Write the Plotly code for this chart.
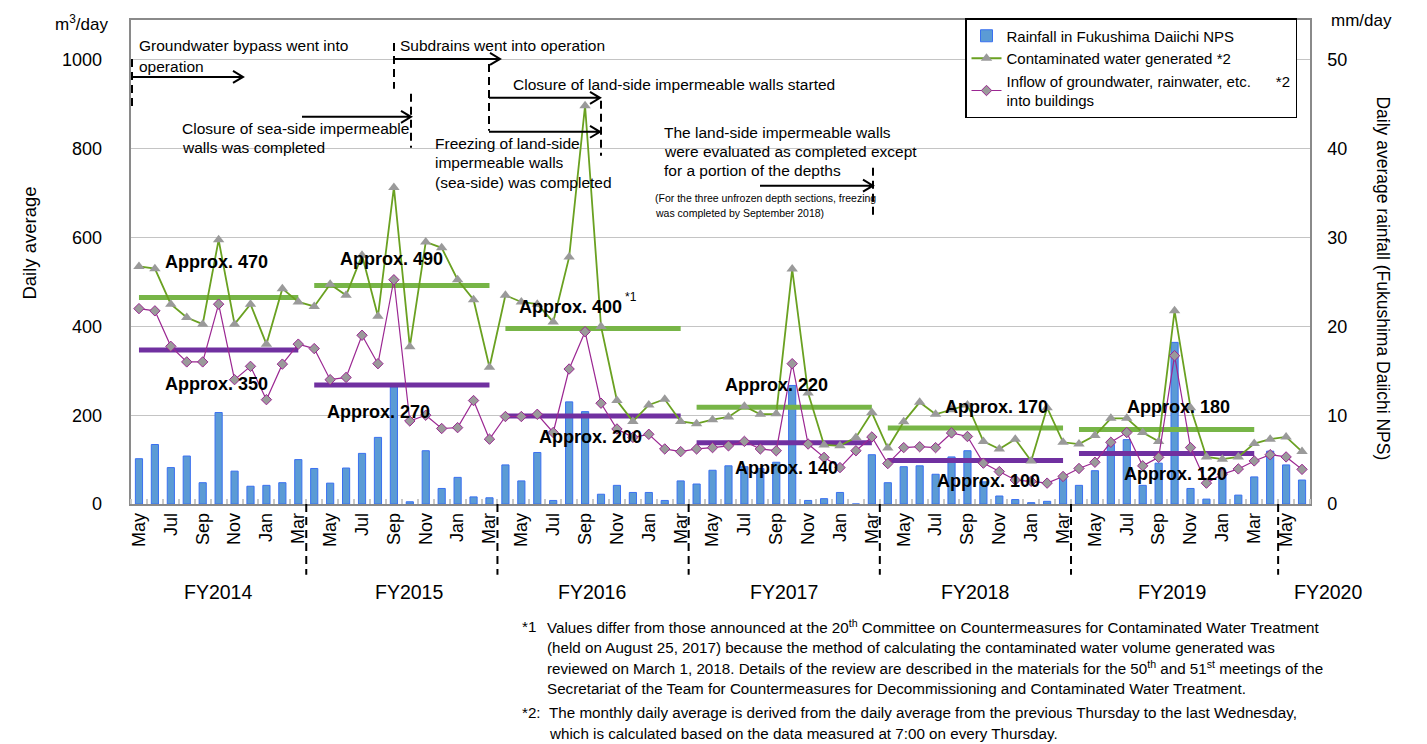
import plotly.graph_objects as go

# ---------------- data ----------------
MONTHS = ["Apr", "May", "Jun", "Jul", "Aug", "Sep", "Oct", "Nov", "Dec", "Jan", "Feb", "Mar"]
N_MONTHS = 74  # May 2014 .. Jun 2020
month_names = [MONTHS[(i + 1) % 12] for i in range(N_MONTHS)]

contaminated = [535, 530, 450, 420, 405, 595, 405, 450, 360, 485, 455,
                445, 495, 470, 560, 423, 713, 354, 590, 577, 505, 460, 308,
                470, 455, 450, 410, 556, 897, 400, 233, 186, 223, 236, 186,
                181, 190, 196, 220, 202, 203, 529, 250, 133, 131, 150, 206,
                126, 185, 229, 202, 212, 223, 141, 124, 146, 97, 217, 139,
                135, 154, 193, 193, 161, 141, 435, 217, 106, 101, 106, 136,
                146, 151, 118]

inflow = [440, 435, 355, 320, 320, 450, 280, 310, 235, 315, 360,
          350, 280, 285, 380, 316, 505, 187, 200, 170, 172, 233, 146,
          197, 197, 202, 161, 304, 388, 227, 169, 150, 157, 124, 118,
          124, 127, 131, 141, 124, 120, 316, 135, 105, 82, 120, 151,
          91, 127, 129, 127, 160, 152, 92, 73, 54, 51, 47, 62,
          80, 94, 139, 161, 86, 105, 334, 127, 47, 67, 79, 97,
          111, 106, 78]

rainfall = [5.1, 6.7, 4.1, 5.4, 2.4, 10.3, 3.7, 2.0, 2.1, 2.4, 5.0,
            4.0, 2.35, 4.05, 5.7, 7.5, 13.2, 0.25, 6.0, 1.75, 3.0, 0.8, 0.7,
            4.4, 2.6, 5.8, 0.4, 11.5, 10.4, 1.1, 2.1, 1.3, 1.3, 0.4, 2.6,
            2.25, 3.8, 4.3, 4.2, 4.0, 4.7, 13.35, 0.4, 0.6, 1.3, 0.0, 5.55,
            2.4, 4.2, 4.3, 3.35, 5.3, 6.0, 2.5, 0.9, 0.5, 0.15, 0.3, 3.0,
            2.1, 3.75, 6.7, 7.25, 2.1, 4.6, 18.2, 1.75, 0.55, 3.6, 1.0, 3.05,
            5.95, 4.4, 2.7]

fiscal_years = ["FY2014", "FY2015", "FY2016", "FY2017", "FY2018", "FY2019", "FY2020"]
fy_first = [0, 11, 23, 35, 47, 59]
fy_last = [10, 22, 34, 46, 58, 70]
avg_contaminated = [465, 492, 395, 218, 171, 168]
avg_inflow = [347, 268, 198, 138, 98, 114]
avg_contaminated_labels = ["Approx. 470", "Approx. 490", "Approx. 400", "Approx. 220", "Approx. 170", "Approx. 180"]
avg_inflow_labels = ["Approx. 350", "Approx. 270", "Approx. 200", "Approx. 140", "Approx. 100", "Approx. 120"]

left_ticks = [0, 200, 400, 600, 800, 1000]
right_ticks = [0, 10, 20, 30, 40, 50]

# ---------------- layout helpers (page pixel -> paper) ----------------
# the page body has an 8px margin, so the figure is drawn at (8, 8)
OFF = 8
L, R, T, B = 131, 1310, 19, 504          # plot area in page pixels
W, H = 1427 - OFF, 744 - OFF             # figure size
def PX(x):
    return (x - L) / (R - L)
def PY(y):
    return (B - y) / (B - T)

FONT = "Liberation Sans, Arial, sans-serif"
GREEN = "#6aa121"
GREEN_AVG = "#77b547"
PURPLE = "#9b2792"
PURPLE_AVG = "#7030a0"

x_idx = list(range(N_MONTHS))

fig = go.Figure()
fig.add_trace(go.Bar(
    x=x_idx, y=rainfall, name="Rainfall in Fukushima Daiichi NPS", yaxis="y",
    width=0.45, marker=dict(color="#5b9bd5", line=dict(color="#3a70f0", width=1)),
))

# FY average lines
gx, gy, px_, py_ = [], [], [], []
for a, b, vc, vi in zip(fy_first, fy_last, avg_contaminated, avg_inflow):
    gx += [a, b, None]; gy += [vc, vc, None]
    px_ += [a, b, None]; py_ += [vi, vi, None]
fig.add_trace(go.Scatter(x=gx, y=gy, yaxis="y2", mode="lines", showlegend=False,
                         line=dict(color=GREEN_AVG, width=5), hoverinfo="skip"))
fig.add_trace(go.Scatter(x=px_, y=py_, yaxis="y2", mode="lines", showlegend=False,
                         line=dict(color=PURPLE_AVG, width=5), hoverinfo="skip"))

fig.add_trace(go.Scatter(
    x=x_idx, y=contaminated, yaxis="y2", mode="lines+markers",
    name="Contaminated water generated *2",
    line=dict(color=GREEN, width=1.8),
    marker=dict(symbol="triangle-up", size=10, color="#9a9a9a", line=dict(width=0)),
))
fig.add_trace(go.Scatter(
    x=x_idx, y=inflow, yaxis="y2", mode="lines+markers",
    name="Inflow of groundwater, rainwater, etc.\u00a0\u00a0\u00a0\u00a0\u00a0 *2<br>into buildings",
    line=dict(color=PURPLE, width=1.2),
    marker=dict(symbol="diamond", size=8, color="#9a9a9a", line=dict(color=PURPLE, width=1)),
))

annotations = []
def text(x, y, s, size=15.5, bold=False, anchor="left", angle=0):
    annotations.append(dict(
        x=PX(x), y=PY(y), xref="paper", yref="paper", text=(f"<b>{s}</b>" if bold else s),
        showarrow=False, xanchor=anchor, yanchor="middle", textangle=angle,
        font=dict(family=FONT, size=size, color="black"),
    ))

# average labels
cont_pos = [(163, 262), (338, 258), (517, 307), (723, 385), (943, 407), (1125, 407)]
infl_pos = [(163, 384), (325, 412), (537, 437), (733, 468), (935, 481), (1122, 474)]
for (x, y), s in zip(cont_pos, avg_contaminated_labels):
    text(x, y, s, size=18, bold=True)
for (x, y), s in zip(infl_pos, avg_inflow_labels):
    text(x, y, s, size=18, bold=True)
text(623, 297, "*1", size=12)

# event annotations
text(137, 45, "Groundwater bypass went into")
text(137, 66, "operation")
text(398, 45, "Subdrains went into operation")
text(511, 84, "Closure of land-side impermeable walls started")
text(180, 128, "Closure of sea-side impermeable")
text(180, 147, "walls was completed")
text(433, 143, "Freezing of land-side")
text(433, 162, "impermeable walls")
text(433, 182, "(sea-side) was completed")
text(662, 132, "The land-side impermeable walls")
text(662, 151, "were evaluated as completed except")
text(662, 170, "for a portion of the depths")
text(653, 197, "(For the three unfrozen depth sections, freezing", size=10.5)
text(653, 212, "was completed by September 2018)", size=10.5)

# axis titles
text(81, 22, "m<sup>3</sup>/day", size=17, anchor="center")
text(30, 243, "Daily average", size=18.5, anchor="center", angle=-90)
text(1361, 19, "mm/day", size=17, anchor="center")
text(1383, 278, "Daily average rainfall (Fukushima Daiichi NPS)", size=17.5, anchor="center", angle=90)

# fiscal year labels
fy_px = [218, 409, 592, 784, 975, 1172, 1328]
for x, s in zip(fy_px, fiscal_years):
    text(x, 592, s, size=19.5, anchor="center")

# footnotes
FN = 15.2
text(520, 627, "*1", size=FN)
text(545, 627, "Values differ from those announced at the 20<sup>th</sup> Committee on Countermeasures for Contaminated Water Treatment", size=FN)
text(545, 648, "(held on August 25, 2017) because the method of calculating the contaminated water volume generated was", size=FN)
text(545, 668, "reviewed on March 1, 2018. Details of the review are described in the materials for the 50<sup>th</sup> and 51<sup>st</sup> meetings of the", size=FN)
text(545, 689, "Secretariat of the Team for Countermeasures for Decommissioning and Contaminated Water Treatment.", size=FN)
text(520, 713, "*2:", size=FN)
text(547, 713, "The monthly daily average is derived from the daily average from the previous Thursday to the last Wednesday,", size=FN)
text(547, 734, "which is calculated based on the data measured at 7:00 on every Thursday.", size=FN)

shapes = []
def arrow(x0, x1, y):
    shapes.append(dict(
        type="path", xref="paper", yref="paper",
        path=(f"M {PX(x0)},{PY(y)} L {PX(x1)},{PY(y)} "
              f"M {PX(x1 - 10)},{PY(y - 6)} L {PX(x1)},{PY(y)} L {PX(x1 - 10)},{PY(y + 6)}"),
        line=dict(color="black", width=2),
    ))
def dashed(x, y0, y1):
    shapes.append(dict(type="line", xref="paper", yref="paper",
                       x0=PX(x), x1=PX(x), y0=PY(y0), y1=PY(y1),
                       line=dict(color="black", width=2, dash="8px,5px")))

arrow(131, 243, 76); dashed(132, 58, 110)
arrow(394, 500, 58); dashed(394, 42, 88)
arrow(302, 411, 116); dashed(411, 93, 147)
arrow(489, 600, 97); dashed(489, 63, 130)
arrow(489, 600, 131); dashed(601, 100, 155)
arrow(760, 873, 185); dashed(873, 167, 215)

# fiscal-year dividers below the axis
for xd in [10.5, 22.5, 34.5, 46.5, 58.5, 71.5]:
    shapes.append(dict(type="line", xref="x", yref="paper", x0=xd, x1=xd,
                       y0=0, y1=PY(575), line=dict(color="black", width=2, dash="8px,5px")))

fig.update_layout(
    width=W, height=H, autosize=False,
    margin=dict(l=L - OFF, r=W - (R - OFF), t=T - OFF, b=H - (B - OFF), pad=0),
    paper_bgcolor="white", plot_bgcolor="white",
    font=dict(family=FONT, size=16, color="black"),
    bargap=0.5,
    xaxis=dict(
        range=[-0.5, N_MONTHS - 0.5], tickmode="array",
        tickvals=x_idx[::2], ticktext=month_names[::2], tickangle=-90,
        tickfont=dict(size=18), showgrid=False, zeroline=False,
        showline=True, linecolor="#8a8a8a", linewidth=1.5, mirror=True, ticks="",
        minor=dict(tickmode="linear", tick0=-0.5, dtick=1, ticks="inside",
                   ticklen=5, tickcolor="#c8c8c8", tickwidth=1.5, showgrid=False),
    ),
    yaxis=dict(
        range=[0, 54.5], side="right", tickmode="array", tickvals=right_ticks,
        tickfont=dict(size=18), showgrid=True, gridcolor="#c4c4c4", gridwidth=1,
        zeroline=False, showline=True, linecolor="#8a8a8a", linewidth=1.5, mirror=True,
        ticks="", ticklabelstandoff=12,
    ),
    yaxis2=dict(
        range=[0, 1090], overlaying="y", side="left", tickmode="array", tickvals=left_ticks,
        tickfont=dict(size=18), showgrid=False, zeroline=False, showline=False,
        ticks="", ticklabelstandoff=28,
    ),
    legend=dict(
        x=PX(965), y=PY(18), xanchor="left", yanchor="top",
        bgcolor="white", bordercolor="black", borderwidth=1.5,
        font=dict(family=FONT, size=15), traceorder="normal",
        tracegroupgap=0, itemwidth=30,
    ),
    annotations=annotations,
    shapes=shapes,
)

fig.write_html("out.html")
